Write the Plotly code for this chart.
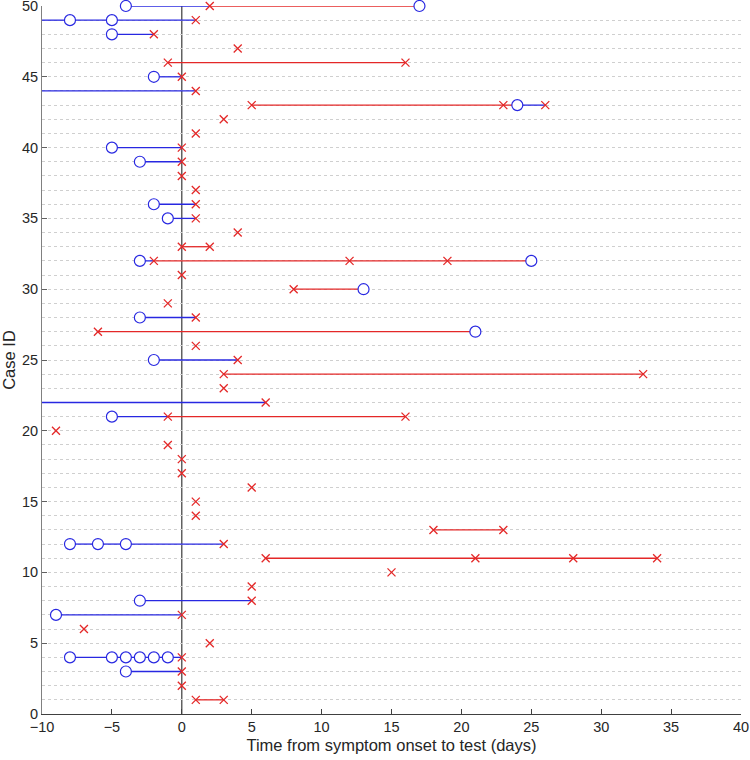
import plotly.graph_objects as go

# ---- data: test days relative to symptom onset, per case ----
case_ids = list(range(1, 51))

# negative test days (blue circles)
neg_days = [
    [], [], [-4], [-8, -5, -4, -3, -2, -1], [], [], [-9], [-3], [], [],            # 1-10
    [], [-8, -6, -4], [], [], [], [], [], [], [], [],                             # 11-20
    [-5], [-13], [], [], [-2], [], [21], [-3], [], [13],                          # 21-30
    [], [-3, 25], [], [], [-1], [-2], [], [], [-3], [-5],                         # 31-40
    [], [], [24], [-12], [-2], [], [], [-5], [-12, -8, -5], [-4, 17],            # 41-50
]

# positive test days (red crosses)
pos_days = [
    [1, 3], [0], [0], [0], [2], [-7], [0], [5], [5], [15],                        # 1-10
    [6, 21, 28, 34], [3], [18, 23], [1], [1], [5], [0], [0], [-1], [-9],          # 11-20
    [-1, 16], [6], [3], [3, 33], [4], [1], [-6], [1], [-1], [8],                  # 21-30
    [0], [-2, 12, 19], [0, 2], [4], [1], [1], [1], [0], [0], [0],                 # 31-40
    [1], [3], [5, 23, 26], [1], [0], [-1, 16], [4], [-2], [1], [2],              # 41-50
]

x_range = [-10, 40]
y_range = [0, 50]
x_ticks = [-10, -5, 0, 5, 10, 15, 20, 25, 30, 35, 40]
y_ticks = [0, 5, 10, 15, 20, 25, 30, 35, 40, 45, 50]

BLUE = "rgb(40,40,225)"
RED = "rgb(228,40,40)"

# ---- build line segments: segment coloured by the status of its start test ----
blue_x, blue_y, red_x, red_y = [], [], [], []
for cid, negs, poss in zip(case_ids, neg_days, pos_days):
    tests = sorted([(d, 0) for d in negs] + [(d, 1) for d in poss])
    for (d0, s0), (d1, s1) in zip(tests[:-1], tests[1:]):
        a = max(d0, x_range[0])  # clip at the left edge of the axis
        b = min(d1, x_range[1])
        if s0 == 0:
            blue_x += [a, b, None]
            blue_y += [cid, cid, None]
        else:
            red_x += [a, b, None]
            red_y += [cid, cid, None]

neg_x, neg_y, pos_x, pos_y = [], [], [], []
for cid, negs, poss in zip(case_ids, neg_days, pos_days):
    for d in negs:
        if x_range[0] <= d <= x_range[1]:
            neg_x.append(d)
            neg_y.append(cid)
    for d in poss:
        if x_range[0] <= d <= x_range[1]:
            pos_x.append(d)
            pos_y.append(cid)

fig = go.Figure()
fig.add_trace(go.Scatter(x=red_x, y=red_y, mode="lines", cliponaxis=False,
                         line=dict(color=RED, width=1.3), hoverinfo="skip",
                         showlegend=False))
fig.add_trace(go.Scatter(x=blue_x, y=blue_y, mode="lines", cliponaxis=False,
                         line=dict(color=BLUE, width=1.3), hoverinfo="skip",
                         showlegend=False))
fig.add_trace(go.Scatter(x=neg_x, y=neg_y, mode="markers", cliponaxis=False,
                         marker=dict(symbol="circle", size=11, color="rgba(255,255,255,1)",
                                     line=dict(color=BLUE, width=1.2)),
                         showlegend=False))
fig.add_trace(go.Scatter(x=pos_x, y=pos_y, mode="markers", cliponaxis=False,
                         marker=dict(symbol="x-thin-open", size=8, color=RED,
                                     line=dict(color=RED, width=1.3)),
                         showlegend=False))

fig.add_shape(type="line", x0=0, x1=0, y0=y_range[0], y1=y_range[1],
              xref="x", yref="y", layer="below",
              line=dict(color="#3a3a3a", width=1.2))

font_family = "Liberation Sans, Arial, sans-serif"
fig.update_layout(
    width=750, height=760,
    margin=dict(l=42, r=9, t=6, b=46),
    paper_bgcolor="white", plot_bgcolor="white",
    font=dict(family=font_family, size=14, color="#262626"),
    xaxis=dict(range=x_range, tickvals=x_ticks, showgrid=False, zeroline=False,
               automargin=False, ticklabeloverflow="allow",
               showline=True, linecolor="#404040", linewidth=1,
               ticks="inside", ticklen=5, tickcolor="#404040",
               title=dict(text="Time from symptom onset to test (days)",
                          font=dict(size=16.5), standoff=5),
               tickfont=dict(size=14.5)),
    yaxis=dict(range=y_range, tickvals=y_ticks, zeroline=False,
               automargin=False, ticklabeloverflow="allow",
               showline=True, linecolor="#808080", linewidth=1,
               ticks="inside", ticklen=5, tickcolor="#606060",
               showgrid=True, gridcolor="#cfcfcf", griddash="dot", gridwidth=1,
               minor=dict(dtick=1, showgrid=True, gridcolor="#cfcfcf",
                          griddash="dot", gridwidth=1),
               title=dict(text="Case ID", font=dict(size=16.5), standoff=5),
               tickfont=dict(size=14.5)),
)

fig.write_html("out.html", config={"displayModeBar": False},
               post_script="document.body.style.margin='0';document.body.style.overflow='hidden';")
